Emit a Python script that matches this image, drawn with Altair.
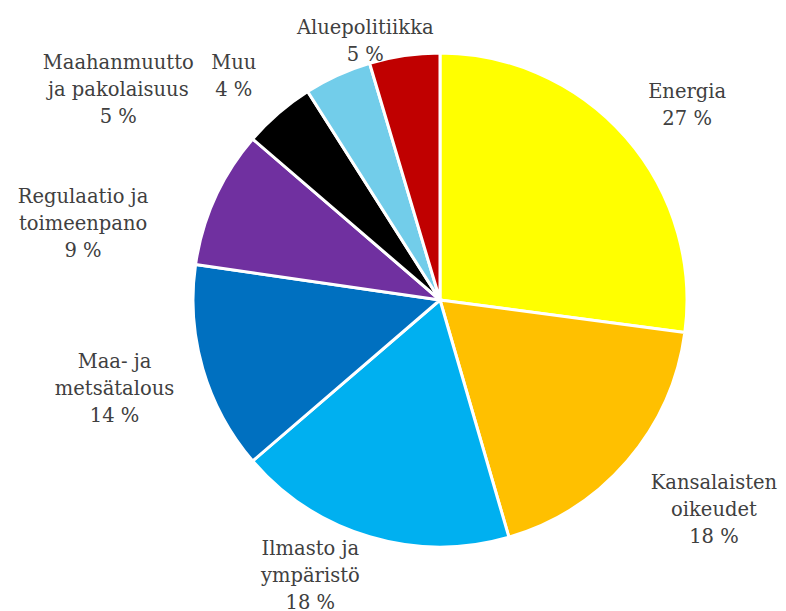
import altair as alt
import pandas as pd

categories = ["Energia", "Kansalaisten oikeudet", "Ilmasto ja ympäristö",
              "Maa- ja metsätalous", "Regulaatio ja toimeenpano",
              "Maahanmuutto ja pakolaisuus", "Muu", "Aluepolitiikka"]
label_lines = ["Energia", "Kansalaisten\noikeudet", "Ilmasto ja\nympäristö",
               "Maa- ja\nmetsätalous", "Regulaatio ja\ntoimeenpano",
               "Maahanmuutto\nja pakolaisuus", "Muu", "Aluepolitiikka"]
shares = [27.1, 18.4, 18.2, 13.6, 9.0, 4.7, 4.4, 4.6]
colors = ["#FFFF00", "#FFC000", "#00B0F0", "#0070C0", "#7030A0",
          "#000000", "#72CDEA", "#C00000"]

df = pd.DataFrame({
    "idx": list(range(len(categories))),
    "cat": categories,
    "value": shares,
    "label": [f"{l}\n{round(v)} %" for l, v in zip(label_lines, shares)],
})

CX, CY = 432, 292
R = 247
TR = 290
# label nudges (dx, dy) relative to the mid-angle point on radius TR
nudges = {
    "Energia": (29, -16.5),
    "Kansalaisten oikeudet": (54, -6),
    "Ilmasto ja ympäristö": (-47, -29),
    "Maa- ja metsätalous": (-47, -19),
    "Regulaatio ja toimeenpano": (-93, 17),
    "Maahanmuutto ja pakolaisuus": (-132, -18),
    "Muu": (-86, 26.5),
    "Aluepolitiikka": (-33, 14.5),
}

base = alt.Chart(df)

pie = base.mark_arc(outerRadius=R, stroke="white", strokeWidth=3).encode(
    theta=alt.Theta("value:Q", stack=True),
    color=alt.Color("cat:N", scale=alt.Scale(domain=categories, range=colors), legend=None),
    order=alt.Order("idx:Q"),
    x=alt.value(CX),
    y=alt.value(CY),
)

layers = [pie]
for cat in categories:
    dx, dy = nudges[cat]
    t = base.transform_window(
        cum="sum(value)", sort=[alt.SortField("idx")]
    ).transform_calculate(
        mid="datum.cum - datum.value / 2"
    ).transform_filter(
        alt.datum.cat == cat
    ).mark_text(
        radius=TR, dx=dx, dy=dy, font="DejaVu Serif", fontSize=19.5,
        lineBreak="\n", lineHeight=27, color="#404040",
        align="center", baseline="middle",
    ).encode(
        theta=alt.Theta("mid:Q", stack=None,
                        scale=alt.Scale(domain=[0, 100], range=[0, 6.283185307179586])),
        text="label:N",
        x=alt.value(CX),
        y=alt.value(CY),
    )
    layers.append(t)

chart = alt.layer(*layers).properties(
    width=770, height=595, padding=0
).configure_view(stroke=None)

chart.save("out.html", embed_options={"renderer": "svg", "actions": False})
